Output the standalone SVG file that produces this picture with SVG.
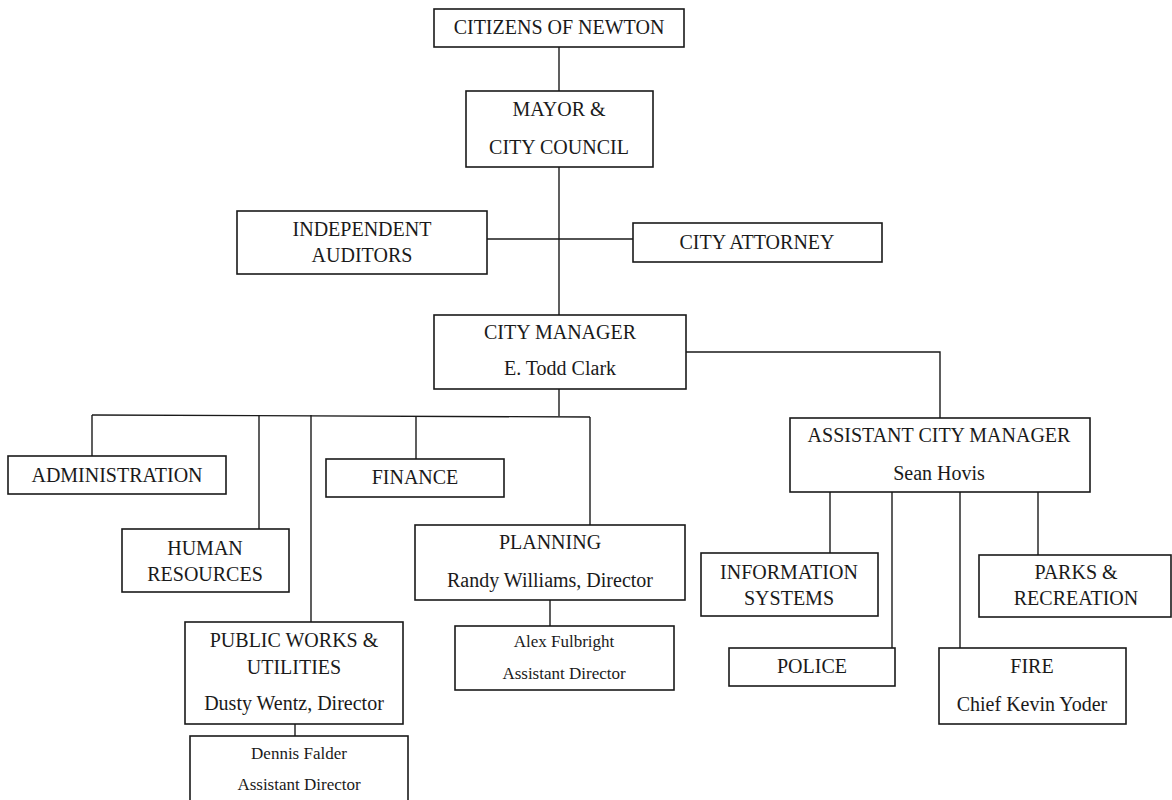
<svg xmlns="http://www.w3.org/2000/svg" width="1172" height="800" viewBox="0 0 1172 800">
<style>
.box{fill:#fff;stroke:#1a1a1a;stroke-width:1.6}
.t{font-family:"Liberation Serif","Times New Roman",serif;font-size:20px;fill:#1a1a1a;text-anchor:middle}
.s{font-family:"Liberation Serif","Times New Roman",serif;font-size:17px;fill:#1a1a1a;text-anchor:middle}
.c{fill:none;stroke:#1a1a1a;stroke-width:1.4}
</style>
<rect width="1172" height="800" fill="#fff"/>
<g id="connectors">
<line class="c" x1="559" y1="47" x2="559" y2="91"/>
<line class="c" x1="559" y1="167" x2="559" y2="315"/>
<line class="c" x1="487" y1="239" x2="633" y2="239"/>
<polyline class="c" points="686,352 940,352 940,418"/>
<line class="c" x1="559" y1="389" x2="559" y2="416"/>
<line class="c" x1="92" y1="415" x2="590" y2="417"/>
<line class="c" x1="92" y1="415" x2="92" y2="456"/>
<line class="c" x1="259" y1="415" x2="259" y2="529"/>
<line class="c" x1="311" y1="415" x2="311" y2="622"/>
<line class="c" x1="416" y1="416" x2="416" y2="459"/>
<line class="c" x1="590" y1="417" x2="590" y2="525"/>
<line class="c" x1="295" y1="724" x2="295" y2="736"/>
<line class="c" x1="550" y1="600" x2="550" y2="626"/>
<line class="c" x1="830" y1="492" x2="830" y2="553"/>
<line class="c" x1="892" y1="492" x2="892" y2="648"/>
<line class="c" x1="960" y1="492" x2="960" y2="648"/>
<line class="c" x1="1038" y1="492" x2="1038" y2="555"/>
</g>
<g id="citizens"><rect class="box" x="434" y="9" width="250" height="38"/><text class="t" x="559" y="34">CITIZENS OF NEWTON</text></g>
<g id="mayor"><rect class="box" x="466" y="91" width="187" height="76"/><text class="t" x="559" y="116">MAYOR &amp;</text><text class="t" x="559" y="154">CITY COUNCIL</text></g>
<g id="auditors"><rect class="box" x="237" y="211" width="250" height="63"/><text class="t" x="362" y="236">INDEPENDENT</text><text class="t" x="362" y="262">AUDITORS</text></g>
<g id="attorney"><rect class="box" x="633" y="223" width="249" height="39"/><text class="t" x="757" y="249">CITY ATTORNEY</text></g>
<g id="city-manager"><rect class="box" x="434" y="315" width="252" height="74"/><text class="t" x="560" y="339">CITY MANAGER</text><text class="t" x="560" y="375">E. Todd Clark</text></g>
<g id="asst-manager"><rect class="box" x="790" y="418" width="300" height="74"/><text class="t" x="939" y="442">ASSISTANT CITY MANAGER</text><text class="t" x="939" y="480">Sean Hovis</text></g>
<g id="administration"><rect class="box" x="8" y="456" width="218" height="38"/><text class="t" x="117" y="482">ADMINISTRATION</text></g>
<g id="finance"><rect class="box" x="326" y="459" width="178" height="38"/><text class="t" x="415" y="484">FINANCE</text></g>
<g id="human-resources"><rect class="box" x="122" y="529" width="167" height="63"/><text class="t" x="205" y="555">HUMAN</text><text class="t" x="205" y="581">RESOURCES</text></g>
<g id="planning"><rect class="box" x="415" y="525" width="270" height="75"/><text class="t" x="550" y="549">PLANNING</text><text class="t" x="550" y="587">Randy Williams, Director</text></g>
<g id="planning-asst"><rect class="box" x="455" y="626" width="219" height="64"/><text class="s" x="564" y="647">Alex Fulbright</text><text class="s" x="564" y="679">Assistant Director</text></g>
<g id="public-works"><rect class="box" x="185" y="622" width="218" height="102"/><text class="t" x="294" y="647">PUBLIC WORKS &amp;</text><text class="t" x="294" y="674">UTILITIES</text><text class="t" x="294" y="710">Dusty Wentz, Director</text></g>
<g id="public-works-asst"><rect class="box" x="190" y="736" width="218" height="70"/><text class="s" x="299" y="759">Dennis Falder</text><text class="s" x="299" y="790">Assistant Director</text></g>
<g id="information-systems"><rect class="box" x="701" y="553" width="177" height="63"/><text class="t" x="789" y="579">INFORMATION</text><text class="t" x="789" y="605">SYSTEMS</text></g>
<g id="parks"><rect class="box" x="979" y="555" width="192" height="62"/><text class="t" x="1076" y="579">PARKS &amp;</text><text class="t" x="1076" y="605">RECREATION</text></g>
<g id="police"><rect class="box" x="729" y="648" width="166" height="38"/><text class="t" x="812" y="673">POLICE</text></g>
<g id="fire"><rect class="box" x="939" y="648" width="187" height="76"/><text class="t" x="1032" y="673">FIRE</text><text class="t" x="1032" y="711">Chief Kevin Yoder</text></g>
</svg>
